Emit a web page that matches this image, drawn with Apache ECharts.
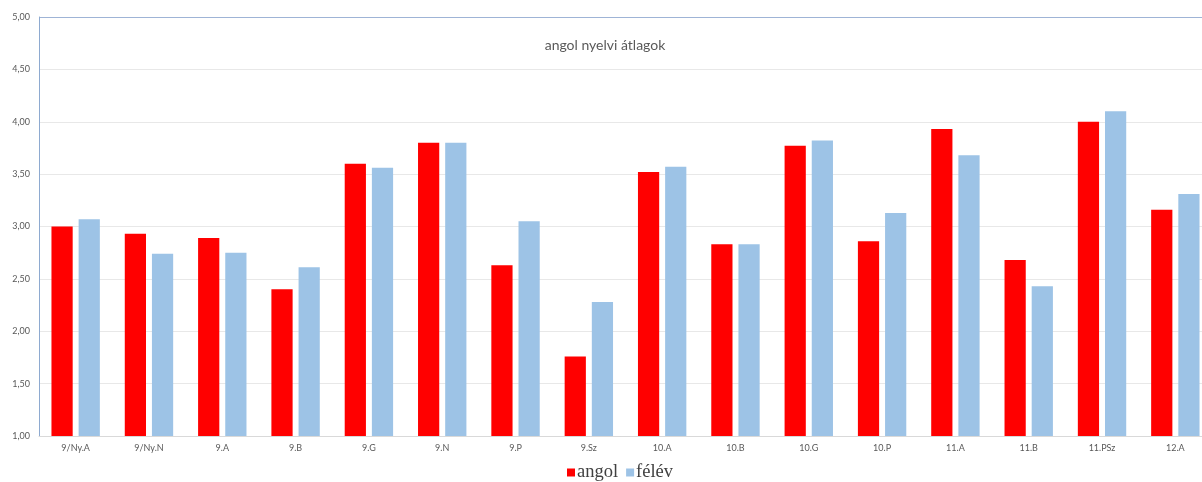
<!DOCTYPE html>
<html><head><meta charset="utf-8">
<script src="https://cdn.jsdelivr.net/npm/echarts@6/dist/echarts.min.js"></script>
<style>html,body{margin:0;padding:0;background:#fff}#c{width:1202px;height:482px;overflow:hidden}</style>
</head><body><div id="c"></div>
<script>
const categories = ['9/Ny.A','9/Ny.N','9.A','9.B','9.G','9.N','9.P','9.Sz','10.A','10.B','10.G','10.P','11.A','11.B','11.PSz','12.A'];
const angol = [3.00,2.93,2.89,2.40,3.60,3.80,2.63,1.76,3.52,2.83,3.77,2.86,3.93,2.68,4.00,3.16];
const felev = [3.07,2.74,2.75,2.61,3.56,3.80,3.05,2.28,3.57,2.83,3.82,3.13,3.68,2.43,4.10,3.31];
const chart = echarts.init(document.getElementById('c'));
chart.setOption({
  animation:false,
  title:{text:'angol nyelvi átlagok',left:600,top:33,textAlign:'center',
    textStyle:{fontFamily:'Lato',fontSize:14,fontWeight:'normal',color:'#595959'}},
  legend:{top:463,left:567,itemWidth:8,itemHeight:8,itemGap:8,icon:'rect',padding:0,
    textStyle:{fontFamily:'Liberation Serif',fontSize:18.5,color:'#404040',padding:[0,0,0,-3]},
    data:['angol','félév']},
  grid:{left:39,width:1173,top:17,height:419,containLabel:false,outerBoundsMode:'none'},
  xAxis:{type:'category',data:categories,
    axisLine:{lineStyle:{color:'#d9d9d9'}},axisTick:{show:false},
    axisLabel:{fontFamily:'Lato',fontSize:9,color:'#595959',margin:8,interval:0}},
  yAxis:{type:'value',min:1,max:5,interval:0.5,
    axisLine:{show:true,lineStyle:{color:'#8eaad0'}},axisTick:{show:false},
    axisLabel:{fontFamily:'Lato',fontSize:9,color:'#595959',margin:9,
      formatter:v=>v.toFixed(2).replace('.',',')},
    splitLine:{lineStyle:{color:['#d9d9d9','#e8e8e8','#e8e8e8','#e8e8e8','#e8e8e8','#e8e8e8','#e8e8e8','#e8e8e8','#9fb4d6']}}},
  series:[
    {name:'angol',type:'bar',data:angol,itemStyle:{color:'#ff0000'},barGap:'28%',barCategoryGap:'34%'},
    {name:'félév',type:'bar',data:felev,itemStyle:{color:'#9dc3e6'}}
  ]
});
</script></body></html>
